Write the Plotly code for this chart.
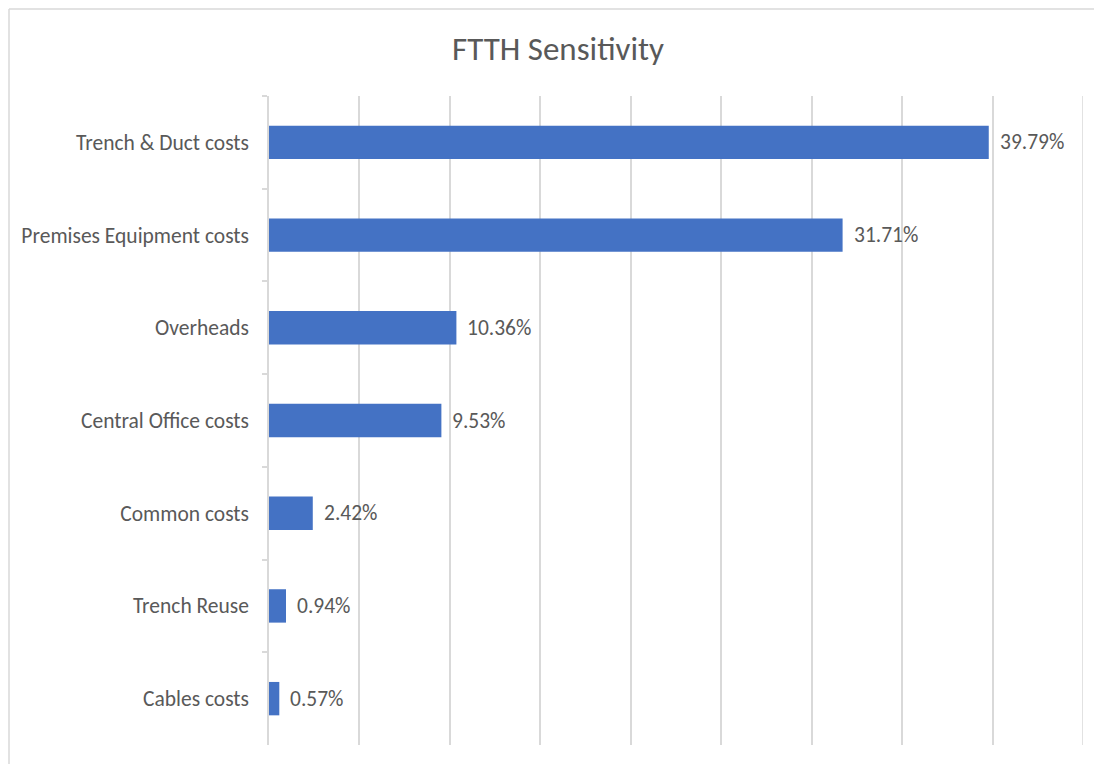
import plotly.graph_objects as go

categories = ["Trench & Duct costs", "Premises Equipment costs", "Overheads",
              "Central Office costs", "Common costs", "Trench Reuse", "Cables costs"]
values = [39.79, 31.71, 10.36, 9.53, 2.42, 0.94, 0.57]
labels = [f"{v:.2f}%" for v in values]

FONT = "Calibri, Carlito, Lato, sans-serif"
GRAY = "#595959"
GRID = "#d9d9d9"
XMAX = 45

W, H = 1094, 756
L, R, T, B = 261, 19, 88, 19
PW, PH = W - L - R, H - T - B

fig = go.Figure(go.Bar(
    x=values, y=categories, orientation="h",
    marker=dict(color="#4472C4", line=dict(width=0)),
    width=0.36,
))

for c, v, t in zip(categories, values, labels):
    fig.add_annotation(x=v, y=c, text=t, showarrow=False, xanchor="left",
                       xshift=9, yanchor="middle",
                       font=dict(family=FONT, size=21.5, color=GRAY))

fig.update_layout(
    width=W, height=H,
    margin=dict(l=L, r=R, t=T, b=B),
    paper_bgcolor="white", plot_bgcolor="white",
    showlegend=False,
    title=dict(text="FTTH Sensitivity", x=550 / W, xref="container", xanchor="center",
               y=1 - 40 / H, yref="container", yanchor="middle",
               font=dict(family=FONT, size=33, color=GRAY)),
    xaxis=dict(range=[0, XMAX], dtick=5, showticklabels=False, showgrid=True,
               gridcolor=GRID, gridwidth=1.5, zeroline=False, showline=False, fixedrange=True),
    yaxis=dict(autorange="reversed", showline=True, linecolor=GRID, linewidth=1.5,
               ticks="outside", ticklen=5, tickcolor=GRID, tickwidth=1.5,
               tickson="boundaries", ticklabelstandoff=14,
               tickfont=dict(family=FONT, size=21.5, color=GRAY), showgrid=False),
    shapes=[
        dict(type="line", xref="x", yref="paper", x0=XMAX, x1=XMAX, y0=0, y1=1,
             layer="below", line=dict(color=GRID, width=1.5)),
        dict(type="line", xref="paper", yref="paper",
             x0=(1 - L) / PW, x1=(W + 20 - L) / PW,
             y0=(H - B - 1) / PH, y1=(H - B - 1) / PH,
             line=dict(color=GRID, width=1.5)),
        dict(type="line", xref="paper", yref="paper",
             x0=(1 - L) / PW, x1=(1 - L) / PW,
             y0=(H - B - 1) / PH, y1=-(B + 20) / PH,
             line=dict(color=GRID, width=1.5)),
    ],
)

fig.write_html("out.html")
